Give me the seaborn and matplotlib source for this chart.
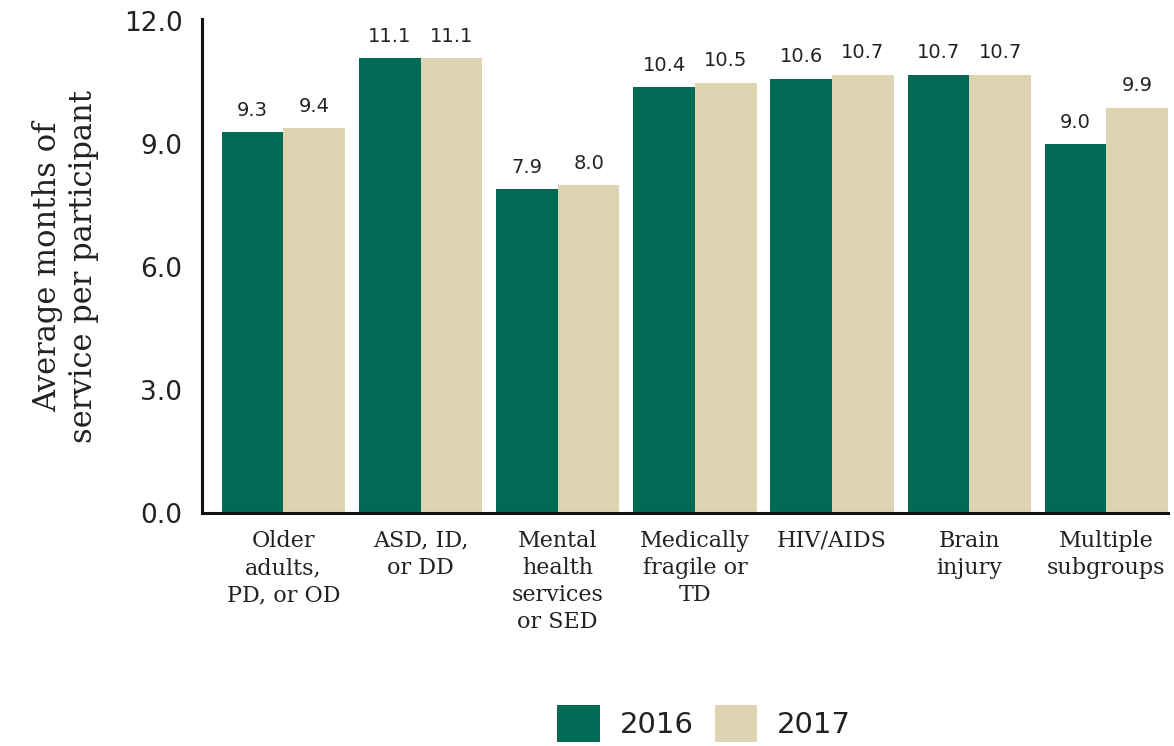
import matplotlib
matplotlib.use("Agg")
import matplotlib.pyplot as plt
import seaborn as sns
import pandas as pd

categories = ["Older\nadults,\nPD, or OD", "ASD, ID,\nor DD", "Mental\nhealth\nservices\nor SED",
              "Medically\nfragile or\nTD", "HIV/AIDS", "Brain\ninjury", "Multiple\nsubgroups"]
years = ["2016", "2017"]
values_2016 = [9.3, 11.1, 7.9, 10.4, 10.6, 10.7, 9.0]
values_2017 = [9.4, 11.1, 8.0, 10.5, 10.7, 10.7, 9.9]
y_ticks = [0.0, 3.0, 6.0, 9.0, 12.0]

df = pd.DataFrame({
    "category": categories * 2,
    "year": [years[0]] * len(categories) + [years[1]] * len(categories),
    "value": values_2016 + values_2017,
})

sns.set_style("white")
plt.rcParams["font.family"] = ["DejaVu Serif"]

colors = {"2016": "#006A55", "2017": "#DED4B1"}

fig = plt.figure(figsize=(11.74, 7.46), dpi=100)
ax = fig.add_axes([0.172, 0.312, 0.823, 0.662])

sns.barplot(data=df, x="category", y="value", hue="year", palette=colors,
            width=0.9, saturation=1, ax=ax, legend=True, edgecolor="none")

for cont in ax.containers:
    ax.bar_label(cont, fmt="%.1f", padding=9, fontsize=14, family="DejaVu Sans", color="#222222")

ax.set_ylim(0, 12.05)
ax.set_xlim(-0.594, 6.45)
ax.set_yticks(y_ticks)
ax.set_yticklabels([f"{t:.1f}" for t in y_ticks], fontsize=19, family="DejaVu Sans")
ax.tick_params(axis="x", labelsize=16, length=0, pad=12, labelcolor="#222222")
ax.tick_params(axis="y", length=0, pad=14, labelcolor="#222222")
for lab in ax.get_xticklabels():
    lab.set_linespacing(1.3)

ax.set_xlabel("")
ax.set_ylabel("Average months of\nservice per participant", fontsize=22, labelpad=18,
              linespacing=1.2, color="#222222")

sns.despine(ax=ax)
for s in ["left", "bottom"]:
    ax.spines[s].set_linewidth(2.2)
    ax.spines[s].set_color("#111111")

ax.get_legend().remove()
handles, labels = ax.get_legend_handles_labels()
fig.legend(handles[:2], labels[:2], loc="center", bbox_to_anchor=(0.600, 0.03),
           ncol=2, frameon=False, handlelength=1.45, handleheight=1.6,
           columnspacing=0.7, handletextpad=0.7, prop={"family": "DejaVu Sans", "size": 21},
           labelcolor="#222222")

fig.savefig("out.png", dpi=100)
